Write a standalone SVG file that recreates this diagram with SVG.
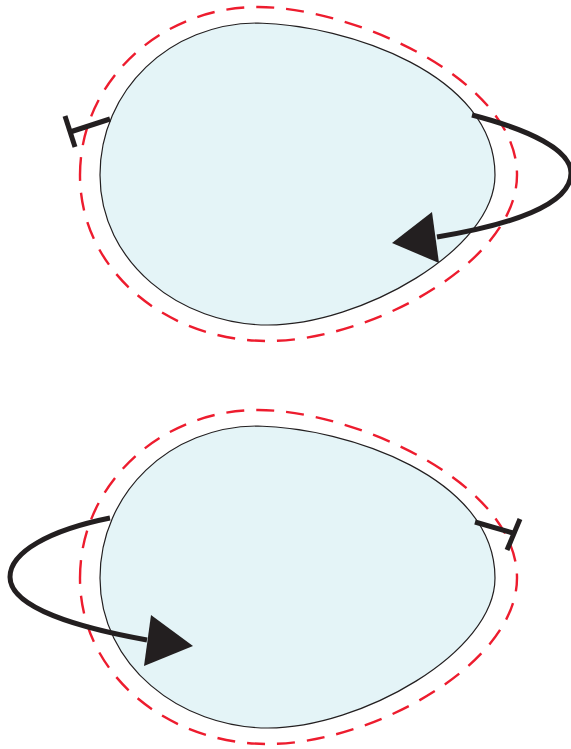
<svg xmlns="http://www.w3.org/2000/svg" width="571" height="749" viewBox="0 0 571 749">
<style>
.egg{fill:#e4f4f7;stroke:#231f20;stroke-width:1.2}
.halo{fill:none;stroke:#ed1c2e;stroke-width:2.4;stroke-dasharray:18 12}
.con{fill:none;stroke:#231f20;stroke-width:5}
.head{fill:#231f20}
</style>
<defs>
<path id="eggp" d="M100,175 C100,90 170,23 258,23 C347,25 495,74 495,175 C495,250 360,325 268,325 C180,325 100,262 100,175 Z"/>
<path id="halop" d="M80,175 C80,82 160,7 258,7 C350,7 517,78 517,175 C517,262 370,341 268,341 C168,341 80,272 80,175 Z"/>
</defs>
<g id="node-top">
<use href="#eggp" class="egg"/>
<use href="#halop" class="halo"/>
</g>
<g id="node-bottom" transform="translate(0,403)">
<use href="#eggp" class="egg"/>
<use href="#halop" class="halo"/>
</g>
<g id="connectors">
<path class="con" d="M110,119 L70,132"/>
<path class="con" d="M65,116 L75,147"/>
<path class="con" d="M472,115 C530,130 571,150 571,173 C571,205 510,225 437,237"/>
<polygon class="head" points="392,243 432,212 439,263"/>
<path class="con" d="M475,522 L513,533"/>
<path class="con" d="M520,519 L507,550"/>
<path class="con" d="M110,518 C50,530 10,552 10,577 C10,608 80,628 147,640"/>
<polygon class="head" points="193,646 151,615 144,666"/>
</g>
</svg>
